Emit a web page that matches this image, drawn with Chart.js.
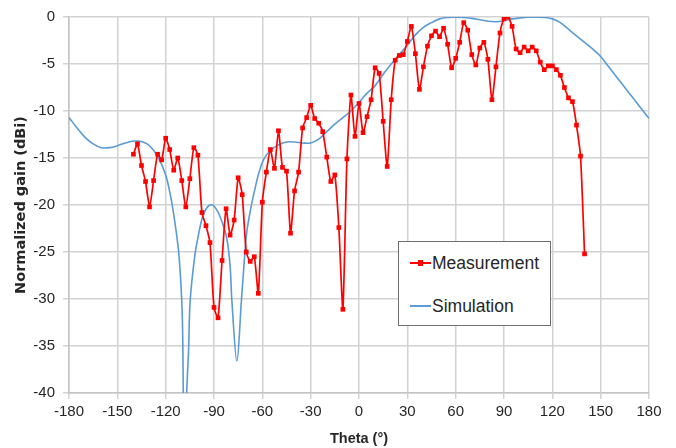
<!DOCTYPE html>
<html>
<head>
<meta charset="utf-8">
<script src="https://cdn.jsdelivr.net/npm/chart.js@4"></script>
<style>
  html, body { margin: 0; padding: 0; background: #ffffff; }
  #wrap { position: relative; width: 676px; height: 448px; }
  #legend {
    position: absolute; left: 398px; top: 241px; width: 151px; height: 83px;
    border: 1.5px solid #6e6e6e; background: #ffffff;
    font-family: "Liberation Sans", Arial, sans-serif; font-size: 17.5px; color: #262626;
  }
  .item { position: absolute; left: 11px; height: 22px; line-height: 22px; white-space: nowrap; }
  .sample { position: absolute; left: 0; top: 10px; width: 21px; height: 2px; }
  .mark { position: absolute; left: 8px; top: -2px; width: 5px; height: 6px; background: #ff0000; }
  .label { position: absolute; left: 22px; top: 0; }
</style>
</head>
<body>
<div id="wrap">
  <canvas id="c" width="676" height="448"></canvas>
  <div id="legend">
    <div class="item" style="top:10px;">
      <div class="sample" style="background:#ff0000;"><div class="mark"></div></div>
      <span class="label">Measurement</span>
    </div>
    <div class="item" style="top:53px;">
      <div class="sample" style="background:#5b9bd5;height:1.5px;"></div>
      <span class="label">Simulation</span>
    </div>
  </div>
</div>
<script>
// Measurement: theta (deg) and normalized gain (dBi)
const measTheta = [-140,-137.5,-135,-132.5,-130,-127.5,-125,-122.5,-120,-117.5,-115,-112.5,-110,-107.5,-105,-102.5,-100,-97.5,-95,-92.5,-90,-87.5,-85,-82.5,-80,-77.5,-75,-72.5,-70,-67.5,-65,-62.5,-60,-57.5,-55,-52.5,-50,-47.5,-45,-42.5,-40,-37.5,-35,-32.5,-30,-27.5,-25,-22.5,-20,-17.5,-15,-12.5,-10,-7.5,-5,-2.5,0,2.5,5,7.5,10,12.5,15,17.5,20,22.5,25,27.5,30,32.5,35,37.5,40,42.5,45,47.5,50,52.5,55,57.5,60,62.5,65,67.5,70,72.5,75,77.5,80,82.5,85,87.5,90,92.5,95,97.5,100,102.5,105,107.5,110,112.5,115,117.5,120,122.5,125,127.5,130,132.5,135,137.5,140];
const measGain = [-14.6,-13.5,-15.8,-17.5,-20.2,-17.4,-14.6,-15.2,-12.9,-14.1,-16.3,-15.0,-17.4,-20.2,-17.2,-13.9,-14.7,-20.8,-22.2,-24.0,-30.9,-32.0,-25.9,-20.4,-23.2,-21.6,-17.1,-18.9,-25.0,-26.0,-25.5,-29.4,-19.7,-16.5,-14.1,-16.1,-12.1,-16.0,-16.4,-23.0,-18.5,-16.5,-11.8,-10.7,-9.4,-10.8,-11.3,-12.2,-14.9,-17.5,-16.8,-22.4,-31.1,-15.1,-8.3,-12.7,-9.2,-12.3,-10.6,-8.8,-5.4,-6.0,-11.1,-15.9,-8.8,-4.6,-4.1,-4.0,-2.6,-1.0,-3.9,-7.7,-5.3,-3.1,-2.0,-1.5,-2.1,-1.2,-2.9,-5.4,-4.4,-2.7,-0.6,-1.4,-4.0,-5.1,-3.3,-2.7,-4.5,-8.8,-5.3,-1.7,-0.2,0.0,-1.0,-3.4,-3.8,-3.2,-3.6,-3.2,-3.6,-4.8,-5.6,-5.2,-5.2,-5.6,-6.2,-7.5,-8.6,-9.0,-11.5,-14.8,-25.2];

// Simulation: theta (deg) and normalized gain (dBi)
const simTheta = [-180,-175,-170,-165,-160,-155,-150,-145,-140,-137,-134,-130,-125,-120,-117,-115,-112,-110,-109.3,-108,-107,-105.8,-104.8,-102,-100,-97,-94,-91,-88,-85,-82,-80,-78.9,-75.8,-73,-71,-69.6,-67,-65,-62,-59,-55,-50,-45,-40,-35,-30,-25,-20,-15,-10,-5,0,5,10,15,20,25,30,35,40,45,50,55,60,65,70,75,80,85,90,95,100,105,110,115,120,125,130,135,140,145,150,155,160,165,170,175,180];
const simGain = [-10.7,-11.8,-12.8,-13.5,-13.9,-13.9,-13.7,-13.4,-13.2,-13.2,-13.3,-13.7,-14.8,-16.8,-19.0,-21.0,-24.9,-30.2,-35.5,-60.0,-40.5,-35.5,-30.2,-25.5,-23.5,-21.2,-20.2,-20.0,-20.6,-21.8,-23.6,-26.5,-30.2,-36.6,-30.2,-25.5,-22.8,-20.2,-18.6,-16.5,-15.1,-14.2,-13.6,-13.3,-13.3,-13.4,-13.4,-13.0,-12.2,-11.4,-10.7,-10.0,-9.1,-8.1,-7.3,-6.1,-5.0,-4.0,-3.0,-1.9,-1.1,-0.6,-0.2,-0.05,-0.02,-0.05,-0.15,-0.3,-0.45,-0.5,-0.4,-0.2,-0.1,-0.03,-0.02,-0.05,-0.2,-0.6,-1.3,-2.0,-2.7,-3.4,-4.2,-5.3,-6.4,-7.5,-8.6,-9.7,-10.8];

const xTitle = "Theta (°)";
const yTitle = "Normalized gain (dBi)";

const measData = measTheta.map((t, i) => ({ x: t, y: measGain[i] }));
const simData = simTheta.map((t, i) => ({ x: t, y: simGain[i] }));

const gridColor = '#d2d2d2';
const tickFont = { family: '"Liberation Sans", Arial, sans-serif', size: 15 };

new Chart(document.getElementById('c'), {
  type: 'line',
  data: {
    datasets: [
      {
        label: 'Simulation',
        data: simData,
        borderColor: '#5b9bd5',
        borderWidth: 1.6,
        pointRadius: 0,
        tension: 0.35,
        fill: false,
        order: 2
      },
      {
        label: 'Measurement',
        data: measData,
        borderColor: '#ff0000',
        backgroundColor: '#ff0000',
        borderWidth: 1.7,
        pointStyle: 'rect',
        pointRadius: 3.3,
        pointBorderWidth: 0,
        tension: 0.2,
        fill: false,
        order: 1
      }
    ]
  },
  options: {
    responsive: false,
    animation: false,
    events: [],
    layout: { padding: { left: 0, right: 27, top: 12.5, bottom: 0 } },
    plugins: { legend: { display: false }, tooltip: { enabled: false } },
    scales: {
      x: {
        type: 'linear',
        min: -180, max: 180,
        ticks: { stepSize: 30, color: '#262626', font: tickFont, padding: 4, maxRotation: 0 },
        grid: { color: gridColor, lineWidth: 1.5, tickLength: 6, tickColor: gridColor },
        border: { color: '#c4c4c4', width: 1.5 },
        title: {
          display: true, text: xTitle, color: '#262626',
          font: { family: '"Liberation Sans", Arial, sans-serif', size: 14.5, weight: 'bold' },
          padding: { top: 0, bottom: 0 }
        },
        afterFit: (s) => { s.height = 55; }
      },
      y: {
        min: -40, max: 0,
        ticks: { stepSize: 5, color: '#262626', font: tickFont, padding: 8 },
        grid: { color: gridColor, lineWidth: 1.5, tickLength: 6, tickColor: gridColor },
        border: { color: '#c4c4c4', width: 1.5 },
        title: {
          display: true, text: yTitle, color: '#262626',
          font: { family: '"DejaVu Sans", sans-serif', size: 14.5, weight: 'bold' },
          padding: { top: 13, bottom: 0 }
        },
        afterFit: (s) => { s.width = 69; }
      }
    }
  }
});
</script>
</body>
</html>
